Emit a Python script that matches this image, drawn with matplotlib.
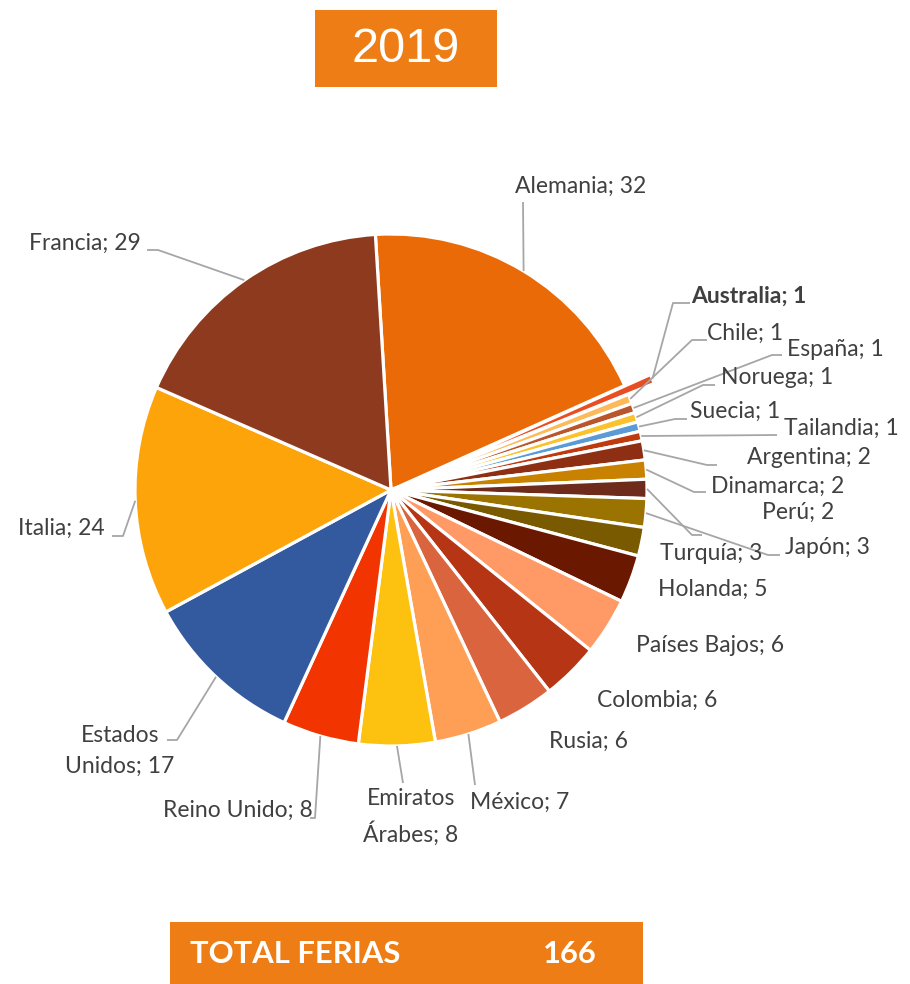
import numpy as np
import matplotlib
matplotlib.use("Agg")
import matplotlib.pyplot as plt
from matplotlib.patches import Rectangle

# ---- data ----
countries = ["Alemania", "Australia", "Chile", "España", "Noruega", "Suecia",
             "Tailandia", "Argentina", "Dinamarca", "Perú", "Turquía", "Japón",
             "Holanda", "Países Bajos", "Colombia", "Rusia", "México",
             "Emiratos\nÁrabes", "Reino Unido", "Estados\nUnidos", "Italia", "Francia"]
ferias = [32, 1, 1, 1, 1, 1, 1, 2, 2, 2, 3, 3, 5, 6, 6, 6, 7, 8, 8, 17, 24, 29]
year_label = "2019"
total_label = "TOTAL FERIAS"
total_value = sum(ferias)

# ---- styles ----
colors = ["#E96A06", "#E84E22", "#FDBA5A", "#B9562C", "#FCC22C", "#5B9BD5",
          "#C03A10", "#8E2F14", "#C98200", "#6E2A1A", "#9B7300", "#7A5A00",
          "#6B1800", "#FF9966", "#B53515", "#D9643E", "#FF9E55",
          "#FDC210", "#F23500", "#335A9E", "#FCA40A", "#8E3A1E"]
explode_px = [0, 28] + [0] * 20
bold = [False, True] + [False] * 20

# label layout in pixel coordinates: (x, y, ha)
label_pos = [(581, 186, "center"), (691, 296, "left"), (707, 333, "left"),
             (787, 349, "left"), (721, 378, "left"), (690, 411, "left"),
             (784, 428, "left"), (747, 458, "left"), (711, 486, "left"),
             (762, 512, "left"), (660, 553, "left"), (785, 548, "left"),
             (658, 589, "left"), (636, 646, "left"), (597, 700, "left"),
             (549, 741, "left"), (470, 802, "left"), (411, 817, "center"),
             (313, 810, "right"), (120, 751, "center"), (105, 528, "right"),
             (141, 243, "right")]
# leader polyline points after the wedge edge (pixel coords), None = no leader
leaders = [[(523, 202)], [(673, 303), (690, 303)], [(692, 340), (707, 340)],
           [(772, 355), (782, 355)], [(703, 385), (715, 385)],
           [(675, 419), (687, 419)], [(777, 435)], [(707, 465), (717, 465)],
           [(694, 492), (706, 492)], [(692, 535), (702, 535)],
           [(768, 555), (780, 555)], None, None, None, None, None,
           [(475, 785)], [(403, 783)], [(315, 818), (310, 818)],
           [(177, 740), (167, 740)], [(123, 536), (112, 536)],
           [(158, 250), (147, 250)]]

W, H = 910, 984
fig = plt.figure(figsize=(W / 100, H / 100), dpi=100)
ax = fig.add_axes([0, 0, 1, 1])

cx, cy, R = 391, 490, 256
wedges, _ = ax.pie(ferias, colors=colors, explode=explode_px, startangle=-93.5,
                   counterclock=True, center=(cx, cy), radius=R, frame=True,
                   wedgeprops=dict(edgecolor="white", linewidth=2.3))
ax.set_xlim(0, W)
ax.set_ylim(H, 0)
ax.set_aspect("auto")
ax.axis("off")

txt_color = "#404040"
line_color = "#A6A6A6"
font = ["Lato", "DejaVu Sans"]

for i, w in enumerate(wedges):
    x, y, ha = label_pos[i]
    text = f"{countries[i]}; {ferias[i]}"
    ax.text(x, y, text, ha=ha, va="center", fontsize=16.5, color=txt_color,
            family=font, fontweight="bold" if bold[i] else "normal",
            linespacing=1.55, zorder=5)
    if leaders[i] is not None:
        mid = np.deg2rad((w.theta1 + w.theta2) / 2)
        ex = w.center[0] + w.r * np.cos(mid)
        ey = w.center[1] + w.r * np.sin(mid)
        pts = [(ex, ey)] + leaders[i]
        ax.plot([p[0] for p in pts], [p[1] for p in pts], color=line_color,
                lw=1.3, zorder=4, solid_capstyle="butt")

box_color = "#ED7D14"
ax.add_patch(Rectangle((315, 10), 182, 77, facecolor=box_color, edgecolor="none", zorder=6))
ax.text(406, 50, year_label, ha="center", va="center", fontsize=35, color="white",
        family=["Liberation Sans", "DejaVu Sans"], zorder=7)

ax.add_patch(Rectangle((170, 922), 473, 62, facecolor=box_color, edgecolor="none", zorder=6))
ax.text(190, 954, total_label, ha="left", va="center", fontsize=22.3, color="white",
        family=font, fontweight="bold", zorder=7)
ax.text(543, 954, str(total_value), ha="left", va="center", fontsize=22.3, color="white",
        family=font, fontweight="bold", zorder=7)

fig.savefig("out.png", dpi=100)
